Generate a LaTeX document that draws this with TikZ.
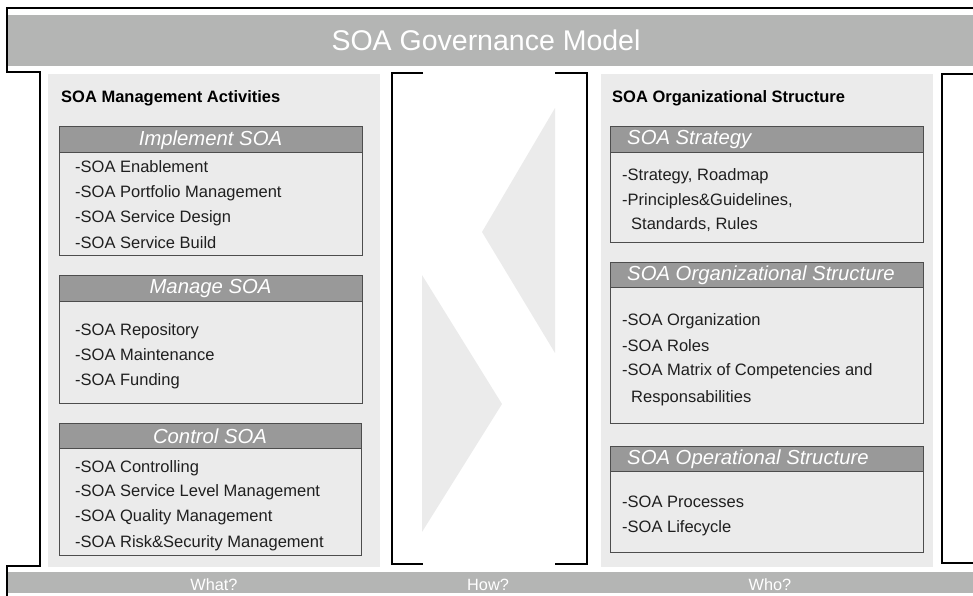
\documentclass[tikz,border=0pt]{standalone}
\usepackage{fontspec}
\setmainfont{Liberation Sans}
\definecolor{band}{HTML}{B4B5B4}
\definecolor{boxhead}{HTML}{999999}
\definecolor{panel}{HTML}{EBEBEB}
\definecolor{boxline}{HTML}{4D4D4D}
\begin{document}
\begin{tikzpicture}[x=1pt,y=-1pt,
  frame/.style={line width=1.3pt, black},
  bandbox/.style={fill=band, draw=none, inner sep=0pt, outer sep=0pt, anchor=north west},
  panelbox/.style={fill=panel, draw=none, inner sep=0pt, outer sep=0pt, anchor=north west},
  bodybox/.style={fill=panel, draw=boxline, line width=0.8pt, inner sep=0pt, outer sep=0pt, anchor=north west},
  headbox/.style={fill=boxhead, draw=boxline, line width=0.8pt, inner sep=0pt, outer sep=0pt, anchor=north west},
  chevron/.style={fill=panel, draw=none},
  item/.style={anchor=mid west, inner sep=0pt, yshift=-3pt, text=black!88, font=\fontsize{16.5}{19}\selectfont},
  paneltitle/.style={anchor=mid west, inner sep=0pt, yshift=-3pt, text=black, font=\fontsize{16.5}{19}\selectfont\bfseries},
  headtxt/.style={inner sep=0pt, yshift=-1pt, text=white, font=\fontsize{20.3}{22}\selectfont\itshape},
  bandtxt/.style={inner sep=0pt, yshift=-1.5pt, text=white, font=\fontsize{16.3}{18}\selectfont}
]
\useasboundingbox (0,0) rectangle (973,596);

% title band and bottom band
\node[bandbox, minimum width=965, minimum height=51] (topband) at (8,15) {};
\node[text=white, inner sep=0pt, font=\fontsize{28.5}{32}\selectfont] (title) at (486,40) {SOA Governance Model};
\node[bandbox, minimum width=965, minimum height=21] (botband) at (8,572) {};
\node[bandtxt] (what) at (214,583) {What?};
\node[bandtxt] (how) at (488,583) {How?};
\node[bandtxt] (who) at (770,583) {Who?};

% outer frame
\draw[frame] (973,8) -- (7,8) -- (7,72) -- (40,72) -- (40,566) -- (7,566) -- (7,596);
\draw[frame] (973,74) -- (942,74) -- (942,563) -- (973,563);

% middle brackets
\draw[frame] (423,73) -- (392,73) -- (392,564) -- (423,564);
\draw[frame] (555,73) -- (587,73) -- (587,564) -- (555,564);

% chevrons between the brackets
\fill[chevron] (555,108) -- (482,232) -- (555,353) -- cycle;
\fill[chevron] (422,275) -- (502,404) -- (422,532) -- cycle;

% left panel
\node[panelbox, minimum width=332, minimum height=493] (lpanel) at (48,74) {};
\node[paneltitle] (ltitle) at (61,97) {SOA Management Activities};

\node[bodybox, minimum width=303, minimum height=129] (impl) at (59,126) {};
\node[headbox, minimum width=303, minimum height=26] (implh) at (59,126) {};
\node[headtxt] (implt) at (implh.center) {Implement SOA};
\node[item] (i1) at (75,167) {-SOA Enablement};
\node[item] (i2) at (75,192) {-SOA Portfolio Management};
\node[item] (i3) at (75,217) {-SOA Service Design};
\node[item] (i4) at (75,243) {-SOA Service Build};

\node[bodybox, minimum width=303, minimum height=128] (mng) at (59,275) {};
\node[headbox, minimum width=303, minimum height=26] (mngh) at (59,275) {};
\node[headtxt] (mngt) at (mngh.center) {Manage SOA};
\node[item] (m1) at (75,330) {-SOA Repository};
\node[item] (m2) at (75,355) {-SOA Maintenance};
\node[item] (m3) at (75,380) {-SOA Funding};

\node[bodybox, minimum width=302, minimum height=132] (ctl) at (59,423) {};
\node[headbox, minimum width=302, minimum height=25] (ctlh) at (59,423) {};
\node[headtxt] (ctlt) at (ctlh.center) {Control SOA};
\node[item] (c1) at (75,467) {-SOA Controlling};
\node[item] (c2) at (75,491) {-SOA Service Level Management};
\node[item] (c3) at (75,516) {-SOA Quality Management};
\node[item] (c4) at (75,542) {-SOA Risk\&Security Management};

% right panel
\node[panelbox, minimum width=332, minimum height=493] (rpanel) at (601,74) {};
\node[paneltitle] (rtitle) at (612,97) {SOA Organizational Structure};

\node[bodybox, minimum width=313, minimum height=116] (strat) at (610,126) {};
\node[headbox, minimum width=313, minimum height=26] (strath) at (610,126) {};
\node[headtxt, anchor=west] (stratt) at (627,139) {SOA Strategy};
\node[item] (s1) at (622,175) {-Strategy, Roadmap};
\node[item] (s2) at (622,200) {-Principles\&Guidelines,};
\node[item] (s3) at (631,224) {Standards, Rules};

\node[bodybox, minimum width=313, minimum height=161] (org) at (610,262) {};
\node[headbox, minimum width=313, minimum height=25] (orgh) at (610,262) {};
\node[headtxt, anchor=west] (orgt) at (627,274.5) {SOA Organizational Structure};
\node[item] (o1) at (622,320) {-SOA Organization};
\node[item] (o2) at (622,346) {-SOA Roles};
\node[item] (o3) at (622,370) {-SOA Matrix of Competencies and};
\node[item] (o4) at (631,397) {Responsabilities};

\node[bodybox, minimum width=313, minimum height=106] (ops) at (610,446) {};
\node[headbox, minimum width=313, minimum height=25] (opsh) at (610,446) {};
\node[headtxt, anchor=west] (opst) at (627,458.5) {SOA Operational Structure};
\node[item] (p1) at (622,502) {-SOA Processes};
\node[item] (p2) at (622,527) {-SOA Lifecycle};
\end{tikzpicture}
\end{document}
